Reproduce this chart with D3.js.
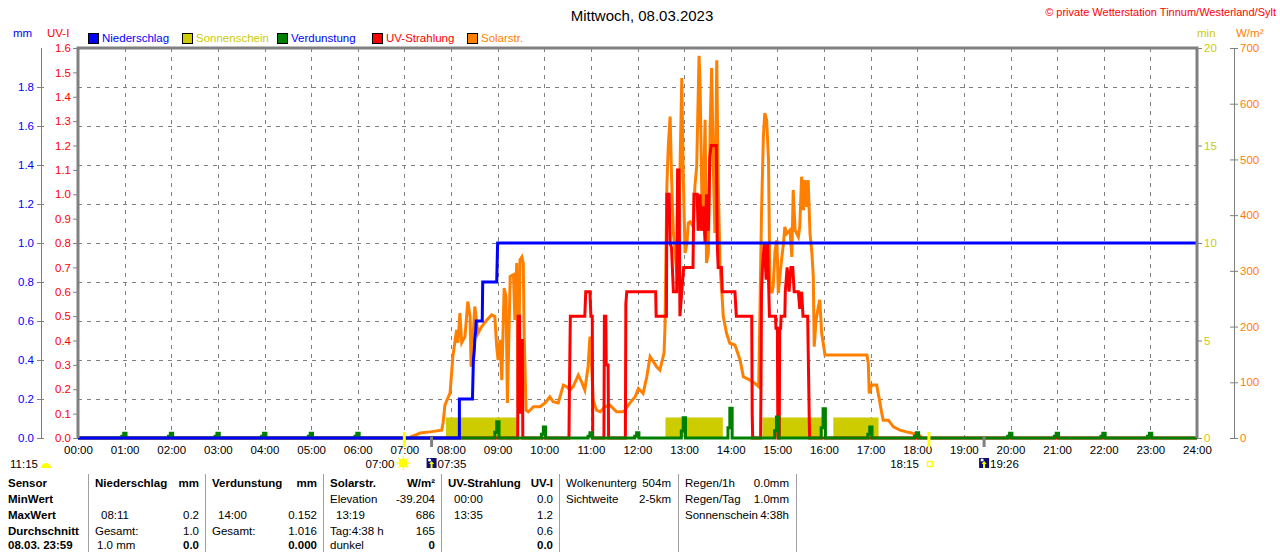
<!DOCTYPE html>
<html><head><meta charset="utf-8">
<script src="https://cdn.jsdelivr.net/npm/d3@7/dist/d3.min.js"></script>
<style>
body{margin:0;background:#fff;}
svg{display:block;font-family:"Liberation Sans",Arial,sans-serif;}
</style></head><body>
<svg id="c" width="1280" height="552"></svg>
<script>
// ---------------- DATA ----------------
const title = "Mittwoch, 08.03.2023";
const copyright = "© private Wetterstation Tinnum/Westerland/Sylt";
const legendNames = ["Niederschlag","Sonnenschein","Verdunstung","UV-Strahlung","Solarstr."];
const legendColors = ["#0000ff","#cccc00","#008000","#ff0000","#ff8000"];
const legendTextColors = ["#0000ff","#cccc00","#0000ff","#ff0000","#ff8000"];
const hourTicks = d3.range(0,25);
const mmTicks = [0,0.2,0.4,0.6,0.8,1.0,1.2,1.4,1.6,1.8];
const uvTicks = [0,0.1,0.2,0.3,0.4,0.5,0.6,0.7,0.8,0.9,1.0,1.1,1.2,1.3,1.4,1.5,1.6];
const minTicks = [0,5,10,15,20];
const wTicks = [0,100,200,300,400,500,600,700];

// Niederschlag (cumulative mm) [hour, mm]
const rainData = [[0,0],[8.18,0],[8.18,0.2],[8.46,0.2],[8.47,0.3],[8.48,0.4],[8.50,0.45],[8.51,0.5],[8.53,0.55],[8.54,0.6],[8.67,0.6],[8.68,0.8],[8.98,0.8],[8.99,0.9],[9.00,1.0],[24,1.0]];
// Sonnenschein intervals (hours), value in minutes
const sunStart = [7.89,12.60,14.68,16.20];
const sunEnd   = [9.45,13.83,15.97,17.17];
const sunValue = 1;
// Verdunstung per hour (mm)
const evapHours  = [1,2,3,4,5,6,9,10,11,12,13,14,15,16,17,18,20,21,22,23];
const evapValues = [0.025,0.025,0.025,0.025,0.025,0.025,0.083,0.056,0.027,0.027,0.104,0.152,0.108,0.15,0.056,0.027,0.025,0.025,0.025,0.025];
// UV index [hour, UV-I]
const uvData = [[0,0],[9.43,0],[9.44,0.5],[9.47,0.5],[9.48,0.1],[9.50,0.4],[9.53,0.4],[9.54,0],[10.53,0],[10.54,0.2],[10.56,0.5],[10.87,0.5],[10.89,0.6],[10.98,0.6],[11.00,0.5],[11.03,0.5],[11.04,0],[11.28,0],[11.29,0.5],[11.32,0.5],[11.33,0.3],[11.37,0.3],[11.38,0],[11.74,0],[11.75,0.55],[11.77,0.6],[12.39,0.6],[12.40,0.5],[12.62,0.5],[12.63,1.0],[12.68,1.0],[12.70,0.8],[12.73,0.78],[12.77,0.6],[12.84,0.6],[12.86,1.1],[12.89,1.1],[12.91,0.5],[12.95,0.6],[12.99,0.7],[13.19,0.7],[13.21,1.0],[13.28,1.0],[13.30,0.85],[13.34,1.0],[13.37,0.85],[13.41,0.95],[13.45,0.8],[13.48,1.0],[13.52,0.85],[13.55,1.15],[13.58,1.2],[13.69,1.2],[13.71,0.8],[13.73,0.7],[13.80,0.7],[13.82,0.6],[14.09,0.6],[14.12,0.5],[14.45,0.5],[14.46,0.1],[14.47,0],[14.64,0],[14.65,0.25],[14.66,0.6],[14.68,0.7],[14.72,0.8],[14.76,0.65],[14.79,0.8],[14.83,0.5],[14.96,0.5],[14.97,0.45],[15.00,0.45],[15.01,0],[15.04,0],[15.05,0.45],[15.07,0.45],[15.08,0.5],[15.16,0.5],[15.17,0.6],[15.21,0.7],[15.25,0.6],[15.29,0.7],[15.33,0.7],[15.36,0.6],[15.45,0.6],[15.48,0.53],[15.52,0.6],[15.55,0.5],[15.65,0.5],[15.67,0.25],[15.69,0],[24,0]];
// Solarstrahlung [hour, W/m2]
const solarData = [[7.12,1],[7.19,4],[7.34,9],[7.55,11],[7.80,14],[7.83,27],[7.87,59],[7.98,81],[8.04,146],[8.12,194],[8.15,171],[8.19,224],[8.23,171],[8.30,182],[8.36,245],[8.41,218],[8.43,128],[8.47,176],[8.51,236],[8.58,188],[8.66,200],[8.77,212],[8.87,221],[8.94,218],[8.98,164],[9.01,140],[9.05,176],[9.09,104],[9.14,269],[9.18,254],[9.21,63],[9.27,290],[9.34,293],[9.37,212],[9.41,314],[9.44,56],[9.48,320],[9.52,325],[9.55,314],[9.57,182],[9.61,50],[9.66,47],[9.77,56],[9.91,56],[10.02,63],[10.12,74],[10.19,65],[10.30,63],[10.41,95],[10.48,92],[10.55,86],[10.62,92],[10.73,113],[10.80,101],[10.87,86],[10.94,128],[10.98,182],[11.02,122],[11.05,68],[11.12,50],[11.20,47],[11.30,56],[11.41,59],[11.55,47],[11.70,47],[11.84,63],[11.95,74],[12.02,89],[12.12,80],[12.20,110],[12.27,146],[12.34,137],[12.41,128],[12.48,122],[12.57,153],[12.59,200],[12.63,451],[12.66,523],[12.70,577],[12.73,469],[12.77,368],[12.80,343],[12.84,296],[12.88,325],[12.91,476],[12.95,646],[12.98,476],[13.02,332],[13.06,350],[13.09,386],[13.13,388],[13.20,379],[13.23,451],[13.27,487],[13.32,686],[13.34,643],[13.38,439],[13.41,415],[13.45,571],[13.48,314],[13.52,332],[13.56,565],[13.59,664],[13.63,476],[13.66,368],[13.70,678],[13.73,463],[13.77,307],[13.81,260],[13.84,218],[13.91,188],[13.98,170],[14.09,167],[14.20,140],[14.27,110],[14.41,104],[14.52,98],[14.60,92],[14.66,404],[14.70,541],[14.73,583],[14.77,571],[14.81,499],[14.84,272],[14.88,260],[14.91,272],[14.95,337],[14.99,355],[15.02,260],[15.06,296],[15.09,320],[15.13,349],[15.16,379],[15.20,367],[15.27,373],[15.31,325],[15.34,445],[15.38,373],[15.45,361],[15.48,379],[15.52,469],[15.56,409],[15.59,463],[15.63,415],[15.66,463],[15.70,367],[15.74,332],[15.77,290],[15.79,164],[15.83,212],[15.88,236],[15.91,248],[15.95,188],[15.99,167],[16.02,149],[16.92,149],[16.95,134],[16.97,80],[17.02,95],[17.13,95],[17.19,68],[17.24,44],[17.27,32],[17.38,32],[17.49,20],[17.63,14],[17.77,11],[17.92,8],[18.06,4],[18.10,1]];

// Sun events
const sunriseCivil = 7.0, sunriseLabel = "07:00";
const sunriseTime = 7 + 35/60, sunriseTimeLabel = "07:35";
const sunsetCivil = 18.25, sunsetLabel = "18:15";
const sunsetTime = 19 + 26/60, sunsetTimeLabel = "19:26";
const dayLengthLabel = "11:15";

// Table
const tableRowLabels = ["Sensor","MinWert","MaxWert","Durchschnitt","08.03. 23:59"];
const tableCols = [
  {head:"Niederschlag", unit:"mm",   left:["","08:11","Gesamt:","1.0 mm"], right:["","0.2","1.0","0.0"]},
  {head:"Verdunstung",  unit:"mm",   left:["","14:00","Gesamt:",""],       right:["","0.152","1.016","0.000"]},
  {head:"Solarstr.",    unit:"W/m²", left:["Elevation","13:19","Tag:4:38 h","dunkel"], right:["-39.204","686","165","0"]},
  {head:"UV-Strahlung", unit:"UV-I", left:["00:00","13:35","",""],         right:["0.0","1.2","0.6","0.0"]}
];
const extraCols = [
  {left:["Wolkenunterg","Sichtweite"], right:["504m","2-5km"]},
  {left:["Regen/1h","Regen/Tag","Sonnenschein"], right:["0.0mm","1.0mm","4:38h"]}
];

// ---------------- DRAW ----------------
const svg = d3.select("#c");
const L=78, R=1197, T=48, B=438;
const FONT = 11.5;
const x = d3.scaleLinear().domain([0,24]).range([L,R]);
const yMm = d3.scaleLinear().domain([0,2]).range([B,T]);
const yUv = d3.scaleLinear().domain([0,1.6]).range([B,T]);
const yMin = d3.scaleLinear().domain([0,20]).range([B,T]);
const yW = d3.scaleLinear().domain([0,700]).range([B,T]);
const gray = "#808080";

// title
svg.append("text").attr("x",642).attr("y",21).attr("text-anchor","middle")
  .attr("font-size",15).attr("fill","#000").text(title);
svg.append("text").attr("x",1276).attr("y",16).attr("text-anchor","end")
  .attr("font-size",11).attr("fill","#ff0000").text(copyright);

// unit labels
svg.append("text").attr("x",13).attr("y",37).attr("font-size",FONT).attr("fill","#0000ff").text("mm");
svg.append("text").attr("x",47).attr("y",37).attr("font-size",FONT).attr("fill","#ff0000").text("UV-I");
svg.append("text").attr("x",1197).attr("y",37).attr("font-size",FONT).attr("fill","#cccc00").text("min");
svg.append("text").attr("x",1236).attr("y",37).attr("font-size",FONT).attr("fill","#ff8000").text("W/m²");

// legend
const legX = [88,182,277,372,467];
legendNames.forEach((n,i)=>{
  svg.append("rect").attr("x",legX[i]+0.5).attr("y",33.5).attr("width",10).attr("height",10)
    .attr("fill",legendColors[i]).attr("stroke","#000").attr("stroke-width",1);
  svg.append("text").attr("x",legX[i]+14).attr("y",42).attr("font-size",FONT)
    .attr("fill",legendTextColors[i]).text(n);
});

// grid
const grid = svg.append("g").attr("stroke",gray).attr("stroke-width",1).attr("stroke-dasharray","4,5");
hourTicks.filter(h=>h>0&&h<24).forEach(h=>{
  grid.append("line").attr("x1",Math.round(x(h))+0.5).attr("x2",Math.round(x(h))+0.5).attr("y1",T).attr("y2",B);
});
mmTicks.filter(v=>v>0).forEach(v=>{
  grid.append("line").attr("x1",L).attr("x2",R).attr("y1",Math.round(yMm(v))+0.5).attr("y2",Math.round(yMm(v))+0.5);
});

// sunshine bars
const sunG = svg.append("g");
sunStart.forEach((s,i)=>{
  sunG.append("rect").attr("x",x(s)).attr("width",x(sunEnd[i])-x(s))
    .attr("y",yMin(sunValue)-1).attr("height",yMin(0)-yMin(sunValue)).attr("fill","#cccc00");
});

// solar
const lineGen = (ys)=>d3.line().x(d=>x(d[0])).y(d=>ys(d[1]));
svg.append("path").datum(solarData).attr("d",lineGen(yW)).attr("fill","none")
  .attr("stroke","#ff8000").attr("stroke-width",3).attr("stroke-linejoin","miter");
// UV
svg.append("path").datum(uvData).attr("d",lineGen(yUv)).attr("fill","none")
  .attr("stroke","#ff0000").attr("stroke-width",3);

// evaporation
const evapPts = [[0,0]];
evapHours.forEach((h,i)=>{
  const v = evapValues[i];
  evapPts.push([h-0.06,0],[h-0.06,v*0.35],[h-0.02,v*0.35],[h-0.02,v],[h+0.03,v],[h+0.03,0]);
});
evapPts.push([24,0]);
svg.append("path").datum(evapPts).attr("d",lineGen(yMm)).attr("fill","none")
  .attr("stroke","#008000").attr("stroke-width",3);

// rain
svg.append("path").datum(rainData).attr("d",lineGen(yMm)).attr("fill","none")
  .attr("stroke","#0000ff").attr("stroke-width",3);

// frame
svg.append("path").attr("d",`M${L},${B}V${T}H${R}V${B}`).attr("fill","none").attr("stroke",gray).attr("stroke-width",3);

// axes
function styleAxis(g,color){
  g.selectAll("text").attr("fill",color).attr("font-size",FONT).attr("font-family","Liberation Sans, Arial, sans-serif");
  g.selectAll("line").attr("stroke",gray);
  g.select(".domain").attr("stroke",gray);
}
const mmAxis = svg.append("g").attr("transform","translate(41,0)")
  .call(d3.axisLeft(yMm).tickValues(mmTicks).tickFormat(d3.format(".1f")).tickSize(4).tickSizeOuter(0).tickPadding(3));
styleAxis(mmAxis,"#0000ff");
mmAxis.select(".domain").attr("d",`M0.5,${T}V${B}`);
mmAxis.selectAll(".tick").append("line").attr("x2",3).attr("stroke",gray);

const uvAxis = svg.append("g").attr("transform",`translate(${L},0)`)
  .call(d3.axisLeft(yUv).tickValues(uvTicks).tickFormat(d3.format(".1f")).tickSize(5).tickSizeOuter(0).tickPadding(2));
styleAxis(uvAxis,"#ff0000");
uvAxis.select(".domain").remove();

const minAxis = svg.append("g").attr("transform",`translate(${R},0)`)
  .call(d3.axisRight(yMin).tickValues(minTicks).tickSize(5).tickSizeOuter(0).tickPadding(2));
styleAxis(minAxis,"#cccc00");
minAxis.select(".domain").remove();

const wAxis = svg.append("g").attr("transform","translate(1234,0)")
  .call(d3.axisRight(yW).tickValues(wTicks).tickSize(4).tickSizeOuter(0).tickPadding(2));
styleAxis(wAxis,"#ff8000");
wAxis.select(".domain").attr("d",`M0.5,${T}V${B}`);
wAxis.selectAll(".tick").append("line").attr("x2",-4).attr("stroke",gray);

const xAxis = svg.append("g").attr("transform",`translate(0,${B})`)
  .call(d3.axisBottom(x).tickValues(hourTicks).tickFormat(d=>d3.format("02d")(d)+":00").tickSize(0).tickPadding(8));
styleAxis(xAxis,"#000");
xAxis.select(".domain").remove();

// sun event markers
svg.append("line").attr("x1",x(sunriseCivil)).attr("x2",x(sunriseCivil)).attr("y1",432).attr("y2",447).attr("stroke","#ffff00").attr("stroke-width",3);
svg.append("line").attr("x1",x(sunsetCivil)).attr("x2",x(sunsetCivil)).attr("y1",432).attr("y2",447).attr("stroke","#ffff00").attr("stroke-width",3);
svg.append("line").attr("x1",x(sunriseTime)).attr("x2",x(sunriseTime)).attr("y1",437).attr("y2",447).attr("stroke",gray).attr("stroke-width",3);
svg.append("line").attr("x1",x(sunsetTime)).attr("x2",x(sunsetTime)).attr("y1",437).attr("y2",447).attr("stroke",gray).attr("stroke-width",3);

const evY = 468;
svg.append("text").attr("x",x(sunriseCivil)-10).attr("y",evY).attr("text-anchor","end").attr("font-size",FONT).text(sunriseLabel);
// sun icon
const sunIcon = svg.append("g").attr("transform",`translate(${x(sunriseCivil)-1},463)`);
d3.range(8).forEach(k=>{const a=k*Math.PI/4; sunIcon.append("line").attr("x1",Math.cos(a)*4).attr("y1",Math.sin(a)*4).attr("x2",Math.cos(a)*7).attr("y2",Math.sin(a)*7).attr("stroke","#ffff00").attr("stroke-width",1.2);});
sunIcon.append("circle").attr("r",4.5).attr("fill","#ffff00");
// rise icon
function riseIcon(cx){
  const g = svg.append("g").attr("transform",`translate(${cx},458)`);
  g.append("rect").attr("x",-5).attr("y",0).attr("width",10).attr("height",10).attr("fill","#101070");
  g.append("circle").attr("cx",-2).attr("cy",2).attr("r",1.6).attr("fill","#fff");
  g.append("path").attr("d","M0,3 L-2.5,6 H-1 V10 H1 V6 H2.5 Z").attr("fill","#ffff00");
}
riseIcon(x(sunriseTime));
svg.append("text").attr("x",x(sunriseTime)+6).attr("y",evY).attr("font-size",FONT).text(sunriseTimeLabel);
svg.append("text").attr("x",x(sunsetCivil)-10).attr("y",evY).attr("text-anchor","end").attr("font-size",FONT).text(sunsetLabel);
svg.append("rect").attr("x",x(sunsetCivil)-1.5).attr("y",461.5).attr("width",5).attr("height",5).attr("fill","none").attr("stroke","#ffff00").attr("stroke-width",1.3);
riseIcon(x(sunsetTime));
svg.append("text").attr("x",x(sunsetTime)+6).attr("y",evY).attr("font-size",FONT).text(sunsetTimeLabel);
// day length
svg.append("text").attr("x",10).attr("y",evY).attr("font-size",FONT).text(dayLengthLabel);
svg.append("path").attr("d","M41,468 A5,5 0 0 1 51,468 Z").attr("fill","#ffff00");

// table
const colX = [88,205,323,441,559,678,796];
const rowY = [487,503,519,535,549];
const tg = svg.append("g").attr("font-size",FONT).attr("fill","#000");
colX.forEach(cx=>{ tg.append("line").attr("x1",cx+0.5).attr("x2",cx+0.5).attr("y1",474).attr("y2",552).attr("stroke","#a0a0a0"); });
tableRowLabels.forEach((t,i)=>{ tg.append("text").attr("x",8).attr("y",rowY[i]).attr("font-weight","bold").text(t); });
const isTime = s=>/^\d\d:\d\d$/.test(s);
tableCols.forEach((c,ci)=>{
  const lx = colX[ci], rx = colX[ci+1]-6;
  tg.append("text").attr("x",lx+7).attr("y",rowY[0]).attr("font-weight","bold").text(c.head);
  tg.append("text").attr("x",rx).attr("y",rowY[0]).attr("text-anchor","end").attr("font-weight","bold").text(c.unit);
  c.left.forEach((t,ri)=>{ if(t) tg.append("text").attr("x",lx+(isTime(t)?13:7)+(ri===3&&ci===0?2:0)).attr("y",rowY[ri+1]).text(t); });
  c.right.forEach((t,ri)=>{ if(t) tg.append("text").attr("x",rx).attr("y",rowY[ri+1]).attr("text-anchor","end").attr("font-weight",ri===3?"bold":"normal").text(t); });
});
extraCols.forEach((c,ci)=>{
  const lx = colX[4+ci], rx = colX[5+ci]-7;
  c.left.forEach((t,ri)=>{ tg.append("text").attr("x",lx+7).attr("y",rowY[ri]).text(t); });
  c.right.forEach((t,ri)=>{ tg.append("text").attr("x",rx).attr("y",rowY[ri]).attr("text-anchor","end").text(t); });
});
</script>
</body></html>
